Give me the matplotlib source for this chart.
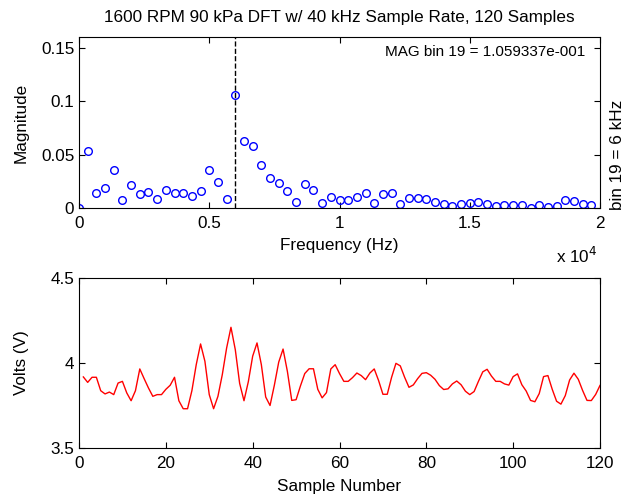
import matplotlib
matplotlib.use("Agg")
import matplotlib.pyplot as plt
import numpy as np

plt.rcParams["font.family"] = ["Liberation Sans", "DejaVu Sans"]

# DFT magnitude, bins 1..60 (MATLAB indexing), 40 kHz / 120 samples
bin_width_hz = 40000 / 120
magnitude = [
    0.0003, 0.0538, 0.0136, 0.0184, 0.0351, 0.0079, 0.0215, 0.0127, 0.0146, 0.0089,
    0.0168, 0.0136, 0.0136, 0.0111, 0.0161, 0.0351, 0.0247, 0.0089, 0.1059337, 0.0627,
    0.0579, 0.0400, 0.0285, 0.0237, 0.0158, 0.0057, 0.0228, 0.0168, 0.0047, 0.0104,
    0.0079, 0.0079, 0.0104, 0.0136, 0.0050, 0.0127, 0.0136, 0.0041, 0.0095, 0.0095,
    0.0085, 0.0057, 0.0041, 0.0016, 0.0035, 0.0047, 0.0057, 0.0035, 0.0016, 0.0025,
    0.0025, 0.0025, 0.0003, 0.0025, 0.0010, 0.0016, 0.0073, 0.0066, 0.0035, 0.0025,
]
peak_bin = 19

# raw samples
volts = [
    3.918, 3.886, 3.916, 3.916, 3.837, 3.818, 3.829, 3.814, 3.882, 3.892,
    3.824, 3.778, 3.837, 3.965, 3.908, 3.853, 3.804, 3.814, 3.814, 3.845,
    3.869, 3.916, 3.778, 3.731, 3.731, 3.837, 3.990, 4.112, 4.010, 3.814,
    3.731, 3.804, 3.931, 4.088, 4.210, 4.078, 3.880, 3.778, 3.890, 4.040,
    4.118, 3.990, 3.800, 3.750, 3.870, 4.005, 4.082, 3.950, 3.780, 3.784,
    3.865, 3.938, 3.966, 3.966, 3.845, 3.795, 3.826, 3.965, 3.990, 3.938,
    3.892, 3.892, 3.914, 3.941, 3.926, 3.902, 3.941, 3.965, 3.897, 3.816,
    3.816, 3.916, 3.998, 3.983, 3.916, 3.857, 3.871, 3.908, 3.939, 3.943,
    3.928, 3.904, 3.867, 3.844, 3.848, 3.877, 3.894, 3.872, 3.834, 3.814,
    3.832, 3.892, 3.948, 3.963, 3.923, 3.892, 3.892, 3.877, 3.870, 3.920,
    3.936, 3.872, 3.835, 3.780, 3.772, 3.820, 3.920, 3.926, 3.845, 3.775,
    3.758, 3.808, 3.900, 3.940, 3.904, 3.838, 3.780, 3.779, 3.815, 3.868,
]

freq = np.arange(len(magnitude)) * bin_width_hz
samples = np.arange(1, len(volts) + 1)
peak_freq = (peak_bin - 1) * bin_width_hz


def matlab_exp(v):
    # MATLAB style %e with three exponent digits
    mant, ex = ("%.6e" % v).split("e")
    return "%se%s%03d" % (mant, ex[0], abs(int(ex)))


fs = 12.3
fig = plt.figure(figsize=(6.29, 4.98), dpi=100)
ax1 = fig.add_axes([0.1256, 0.5823, 0.8283, 0.3434])
ax2 = fig.add_axes([0.1256, 0.1004, 0.8283, 0.3414])

ax1.plot(freq, magnitude, "o", mfc="none", mec="blue", ms=5.5, mew=1.0)
ax1.plot([peak_freq, peak_freq], [0, 0.16], "k--", lw=1.0)
ax1.set_xlim(0, 20000)
ax1.set_ylim(0, 0.16)
ax1.set_xticks([0, 5000, 10000, 15000, 20000])
ax1.set_xticklabels(["0", "0.5", "1", "1.5", "2"])
ax1.set_yticks([0, 0.05, 0.1, 0.15])
ax1.set_yticklabels(["0", "0.05", "0.1", "0.15"])
ax1.set_xlabel("Frequency (Hz)", fontsize=fs)
ax1.set_ylabel("Magnitude", fontsize=fs)
ax1.xaxis.set_label_coords(0.5, -0.178)
ax1.yaxis.set_label_coords(-0.096, 0.5)
ax1.set_title("1600 RPM 90 kPa DFT w/ 40 kHz Sample Rate, 120 Samples", fontsize=fs, pad=11)
ax1.text(0.995, -0.28, r"x 10$^{4}$", transform=ax1.transAxes, ha="right", va="center", fontsize=fs)
ax1.text(0.971, 0.912, "MAG bin %d = %s" % (peak_bin, matlab_exp(magnitude[peak_bin - 1])),
         transform=ax1.transAxes, ha="right", va="center", fontsize=11)
ax1.text(1.033, -0.01, "bin %d = %d kHz" % (peak_bin, round(peak_freq / 1000)),
         transform=ax1.transAxes, rotation=90, ha="center", va="bottom", fontsize=fs)

ax2.plot(samples, volts, "-", color="red", lw=1.0)
ax2.set_xlim(0, 120)
ax2.set_ylim(3.5, 4.5)
ax2.set_xticks(range(0, 121, 20))
ax2.set_yticks([3.5, 4, 4.5])
ax2.set_yticklabels(["3.5", "4", "4.5"])
ax2.set_xlabel("Sample Number", fontsize=fs)
ax2.set_ylabel("Volts (V)", fontsize=fs)
ax2.xaxis.set_label_coords(0.5, -0.185)
ax2.yaxis.set_label_coords(-0.096, 0.5)

for ax in (ax1, ax2):
    ax.tick_params(direction="in", top=True, right=True, labelsize=fs, length=4, width=0.8)
    ax.tick_params(axis="x", pad=6)
    for s in ax.spines.values():
        s.set_linewidth(0.8)

fig.savefig("out.png", dpi=100, facecolor="white")
